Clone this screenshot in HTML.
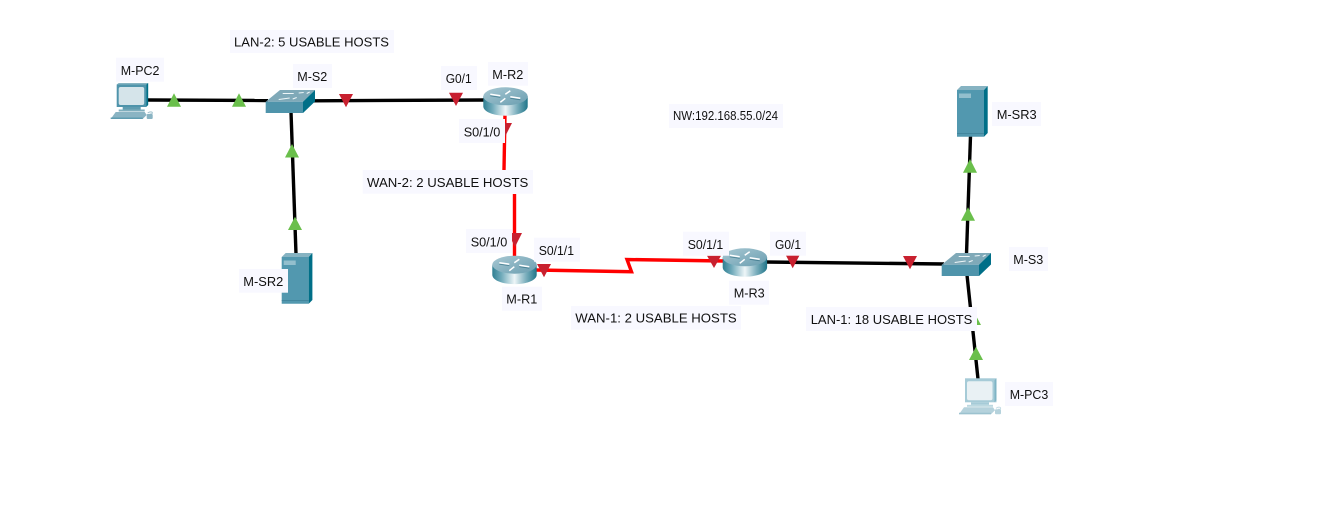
<!DOCTYPE html>
<html><head><meta charset="utf-8"><style>
html,body{margin:0;padding:0;background:#fff}
svg{display:block}
text{font-family:"Liberation Sans",sans-serif;font-size:13px;fill:#111}
</style></head><body>
<svg width="1337" height="510" viewBox="0 0 1337 510" xmlns="http://www.w3.org/2000/svg">
<defs>
<linearGradient id="rg" x1="0" x2="1" y1="0" y2="0">
<stop offset="0" stop-color="#2f7f92"/><stop offset=".2" stop-color="#6ea9b9"/><stop offset=".5" stop-color="#eef6f8"/><stop offset=".75" stop-color="#7fb1bf"/><stop offset="1" stop-color="#1f7589"/>
</linearGradient>
<linearGradient id="rt" x1="0" x2="1" y1="0" y2="1">
<stop offset="0" stop-color="#a8c8d3"/><stop offset="1" stop-color="#6a9eb0"/>
</linearGradient>
<g id="router">
<path d="M0 9V19C0 24.500 10 28.400 22.200 28.400S44.400 24.500 44.400 19V9Z" fill="url(#rg)"/>
<ellipse cx="22.200" cy="9" rx="22.200" ry="9" fill="url(#rt)"/>
<g stroke="#fff" stroke-width="1.500" fill="none">
<path d="M7 7L17 8.500M37 11L27 9.500M27 3.500L22 7M17 15L22 11"/>
</g>
<g stroke="#2f6c80" stroke-width=".8" fill="none" opacity=".7">
<path d="M7 8.500L17 10M37 12.500L27 11"/>
</g>
</g>
<g id="switch">
<path d="M0 11.700L14.300 0H49.300L37.300 11.700Z" fill="#7fa9b8"/>
<path d="M0 11.700H37.300V23H0Z" fill="#4f94ab"/>
<path d="M37.300 11.700L49.300 0V11.500L37.300 23Z" fill="#006f88"/>
<g stroke="#eef6f8" stroke-width="1">
<path d="M13 9.500L24 8M27 9L31 7.500M17 3.500H28M33 3L38 2.500M41 3.500L44 2"/>
</g>
</g>
<g id="server">
<path d="M0 4L4 0H30.700L27 4Z" fill="#86b3c2"/>
<path d="M0 4H27V50.700H0Z" fill="#5298af"/>
<path d="M27 4L30.700 0V47L27 50.700Z" fill="#006f88"/>
<rect x="2" y="7.500" width="12" height="4.500" fill="#93bfcd"/>
<rect x="0" y="47" width="27" height=".8" fill="#3f8299"/>
</g>
<g id="pc">
<rect x="0" y="1.500" width="29.500" height="22.500" fill="#4f94ab"/>
<path d="M0 1.500L2 0H31.500L29.500 1.500Z" fill="#86b3c2"/>
<path d="M29.500 1.500L31.500 0V22L29.500 24Z" fill="#006f88"/>
<rect x="2" y="4" width="25.500" height="18" rx="2" fill="#d5e4ea"/>
<rect x="6" y="24" width="18" height="2.500" fill="#5f9cb0"/>
<rect x="2" y="26.500" width="26" height="2" fill="#7faebd"/>
<path d="M-1 29H28L30 32L26 36H-6Z" fill="#8ab4c3"/>
<path d="M-6 34.500H26V36H-6Z" fill="#5f9cb0"/>
<path d="M31 30C34 28 37 29 35 31L33 31" stroke="#9fc1cd" fill="none"/>
<rect x="30" y="31" width="6" height="5" rx="1" fill="#8ab4c3"/>
</g>
<g id="pcl">
<rect x="0" y="0" width="31.500" height="24" fill="#a6cbd7"/>
<path d="M29.500 2L31.500 0V22L29.500 24Z" fill="#7fb4c5"/>
<rect x="2" y="3" width="25.500" height="19" rx="2" fill="#e9f1f4"/>
<rect x="6" y="24" width="18" height="2.500" fill="#a6cbd7"/>
<rect x="2" y="26.500" width="26" height="2" fill="#bcd8e0"/>
<path d="M-1 29H28L30 32L26 36H-6Z" fill="#b5d2dc"/>
<path d="M-6 34.500H26V36H-6Z" fill="#9cc2cf"/>
<path d="M31 30C34 28 37 29 35 31L33 31" stroke="#c5dce4" fill="none"/>
<rect x="30" y="31" width="6" height="5" rx="1" fill="#b5d2dc"/>
</g>
</defs>

<!-- links -->
<g stroke="#000" stroke-width="3.400" fill="none">
<path d="M148 100L268 100.500"/>
<path d="M312 100.800L486 100"/>
<path d="M291 112L296 254"/>
<path d="M970.500 136L966.500 254"/>
<path d="M967 275L978 379"/>
<path d="M765 262L944 264"/>
</g>
<g stroke="#f00" stroke-width="3.400" fill="none">
<path d="M505 114L504 170"/>
<path d="M514.500 194L514.500 258"/>
<path d="M536 270L631.500 271.700L627 259.500L724 261"/>
</g>

<!-- green triangles -->
<g fill="#6abf4b">
<path d="M174 93.300L181 106.700H167Z"/>
<path d="M239 93.300L246 106.700H232Z"/>
<path d="M292 144L299 157.500H285Z"/>
<path d="M295 216.700L302 230H288Z"/>
<path d="M970 159L977 172.700H963Z"/>
<path d="M968 207.300L975 220.700H961Z"/>
<path d="M976 346.700L983 360H969Z"/>
<path d="M974 312L981 325H967Z"/>
</g>
<!-- red triangles -->
<g fill="#c8202f">
<path d="M346 107.300L339 94H353Z"/>
<path d="M456 106L449 92.700H463Z"/>
<path d="M505 136.700L498 123H512Z"/>
<path d="M515 247L508 233H522Z"/>
<path d="M544 277.300L537 264H551Z"/>
<path d="M714 268L707 255.700H721Z"/>
<path d="M792.700 268.300L785.700 255H799.700Z"/>
<path d="M910 269.300L903 256H917Z"/>
</g>

<!-- devices -->
<use href="#pc" x="116.700" y="83"/>
<use href="#switch" x="265.700" y="90"/>
<use href="#server" x="281.700" y="253"/>
<use href="#router" x="483.300" y="87.300"/>
<use href="#router" x="492.300" y="255.700"/>
<use href="#router" x="722.700" y="248.300"/>
<use href="#server" x="957" y="86"/>
<use href="#switch" x="941.700" y="253"/>
<use href="#pcl" x="965" y="378.300"/>

<!-- label boxes -->
<g fill="#f8f8ff">
<rect x="230" y="30" width="164" height="23"/>
<rect x="116" y="57.700" width="48" height="24"/>
<rect x="293" y="64" width="39" height="24"/>
<rect x="239" y="269" width="49" height="23.700"/>
<rect x="441" y="66" width="36" height="24"/>
<rect x="488" y="62" width="40" height="23.700"/>
<rect x="459" y="119" width="46" height="24"/>
<rect x="362.700" y="170" width="170.300" height="23.700"/>
<rect x="669" y="104" width="114" height="24"/>
<rect x="466" y="229" width="46" height="24"/>
<rect x="534" y="237.700" width="46" height="24"/>
<rect x="683" y="231.700" width="46" height="24"/>
<rect x="770" y="231.700" width="36" height="24"/>
<rect x="502" y="286.700" width="40" height="24"/>
<rect x="729" y="280.700" width="40" height="24"/>
<rect x="571" y="306" width="170" height="23.700"/>
<rect x="992" y="102" width="49" height="24"/>
<rect x="1009" y="247" width="39" height="24"/>
<rect x="806" y="307" width="171" height="24"/>
<rect x="1005" y="382" width="48" height="24"/>
</g>

<!-- labels -->
<g>
<text x="234" y="46.700" textLength="155" lengthAdjust="spacingAndGlyphs">LAN-2: 5 USABLE HOSTS</text>
<text x="120.700" y="75" textLength="38.700" lengthAdjust="spacingAndGlyphs">M-PC2</text>
<text x="297.300" y="81" textLength="30" lengthAdjust="spacingAndGlyphs">M-S2</text>
<text x="243.300" y="286" textLength="40" lengthAdjust="spacingAndGlyphs">M-SR2</text>
<text x="445.700" y="83" textLength="26" lengthAdjust="spacingAndGlyphs">G0/1</text>
<text x="492.300" y="79" textLength="31" lengthAdjust="spacingAndGlyphs">M-R2</text>
<text x="463.700" y="136.300" textLength="36.600" lengthAdjust="spacingAndGlyphs">S0/1/0</text>
<text x="367" y="187" textLength="161.300" lengthAdjust="spacingAndGlyphs">WAN-2: 2 USABLE HOSTS</text>
<text x="673" y="120" textLength="105" lengthAdjust="spacingAndGlyphs">NW:192.168.55.0/24</text>
<text x="470.700" y="246.700" textLength="36.600" lengthAdjust="spacingAndGlyphs">S0/1/0</text>
<text x="538.700" y="255" textLength="35.300" lengthAdjust="spacingAndGlyphs">S0/1/1</text>
<text x="687.700" y="249" textLength="35.600" lengthAdjust="spacingAndGlyphs">S0/1/1</text>
<text x="775" y="249" textLength="26" lengthAdjust="spacingAndGlyphs">G0/1</text>
<text x="506.300" y="303.700" textLength="31" lengthAdjust="spacingAndGlyphs">M-R1</text>
<text x="733.700" y="297.700" textLength="31" lengthAdjust="spacingAndGlyphs">M-R3</text>
<text x="575.300" y="322.700" textLength="161.400" lengthAdjust="spacingAndGlyphs">WAN-1: 2 USABLE HOSTS</text>
<text x="996.700" y="119" textLength="40" lengthAdjust="spacingAndGlyphs">M-SR3</text>
<text x="1013.300" y="264" textLength="30" lengthAdjust="spacingAndGlyphs">M-S3</text>
<text x="810.700" y="324" textLength="161.600" lengthAdjust="spacingAndGlyphs">LAN-1: 18 USABLE HOSTS</text>
<text x="1009.700" y="399" textLength="38.600" lengthAdjust="spacingAndGlyphs">M-PC3</text>
</g>
</svg>
</body></html>
